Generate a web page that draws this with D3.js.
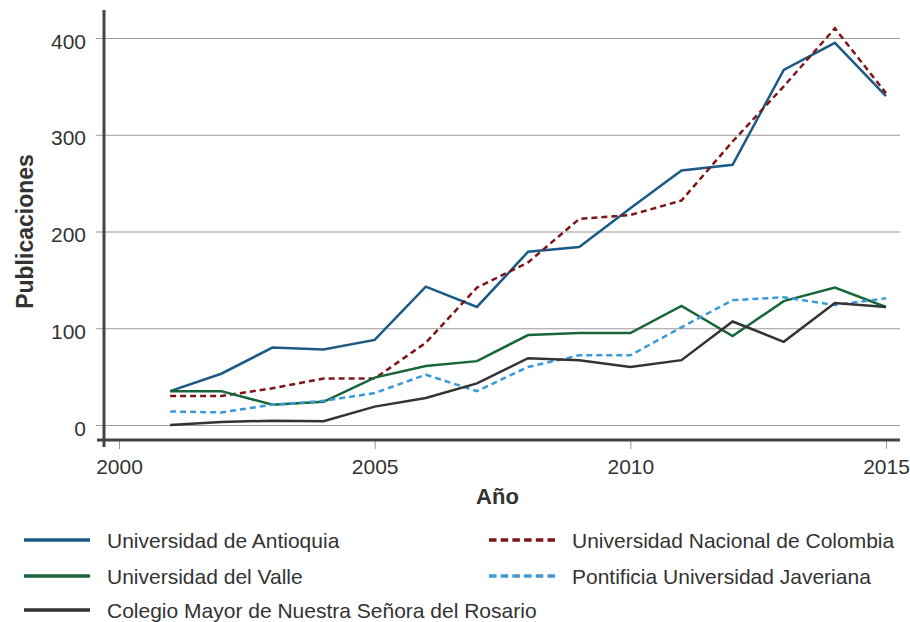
<!DOCTYPE html>
<html><head><meta charset="utf-8">
<script src="https://cdn.jsdelivr.net/npm/d3@7"></script>
<style>body{margin:0;background:#fff}svg{display:block}text{font-family:"Liberation Sans",Arial,Helvetica,sans-serif;fill:#333}</style>
</head><body>
<svg id="c" width="910" height="622"></svg>
<script>
const years = [2001,2002,2003,2004,2005,2006,2007,2008,2009,2010,2011,2012,2013,2014,2015];
const antioquia = [35,53,80,78,88,143,122,179,184,224,263,269,367,395,340];
const nacional  = [30,30,38,48,48,85,142,168,213,217,232,293,350,410,343];
const valle     = [35,35,21,24,49,61,66,93,95,95,123,92,128,142,122];
const javeriana = [14,13,21,25,33,52,35,60,72,72,101,129,132,124,131];
const rosario   = [0,3,4.5,4,19,28,43,69,67,60,67,107,86,126,122];
const seriesNames = ["Universidad de Antioquia","Universidad Nacional de Colombia","Universidad del Valle","Pontificia Universidad Javeriana","Colegio Mayor de Nuestra Señora del Rosario"];
const xTicks = [2000,2005,2010,2015];
const yTicks = [0,100,200,300,400];

const series = [
  {name:seriesNames[0], values:antioquia, color:"#1c5a86", dash:null},
  {name:seriesNames[1], values:nacional,  color:"#7e1518", dash:"6,4"},
  {name:seriesNames[2], values:valle,     color:"#17663a", dash:null},
  {name:seriesNames[3], values:javeriana, color:"#3a9ad8", dash:"6,4"},
  {name:seriesNames[4], values:rosario,   color:"#333333", dash:null}
];

const svg = d3.select("#c");
const x = d3.scaleLinear().domain([2000,2015]).range([119,886]);
const y = d3.scaleLinear().domain([0,400]).range([425,38]);

// gridlines + y axis
const yAxis = d3.axisLeft(y).tickValues(yTicks).tickSize(-804).tickPadding(10);
const gy = svg.append("g").attr("transform","translate(104,0)").call(yAxis);
gy.select(".domain").remove();
gy.selectAll(".tick line").attr("x1",-8).attr("x2",796).attr("stroke","#9a9a9a").attr("stroke-width",1);
gy.selectAll(".tick text").attr("font-size",21).attr("fill","#333").attr("x",-18).attr("dy","0.48em");

// x axis
const xAxis = d3.axisBottom(x).tickValues(xTicks).tickFormat(d3.format("d")).tickSize(9).tickPadding(10);
const gx = svg.append("g").attr("transform","translate(0,440)").call(xAxis);
gx.select(".domain").remove();
gx.selectAll(".tick line").attr("stroke","#999").attr("stroke-width",1);
gx.selectAll(".tick text").attr("font-size",21).attr("fill","#333");

// axis lines
svg.append("line").attr("x1",97).attr("x2",900).attr("y1",440).attr("y2",440).attr("stroke","#444").attr("stroke-width",3);
svg.append("line").attr("x1",104).attr("x2",104).attr("y1",10).attr("y2",447).attr("stroke","#444").attr("stroke-width",3);

// titles
svg.append("text").attr("x",497.5).attr("y",504).attr("text-anchor","middle").attr("font-size",22).attr("font-weight","bold").text("Año");
svg.append("text").attr("transform","translate(33,231.5) rotate(-90)").attr("text-anchor","middle").attr("font-size",23).attr("font-weight","bold").text("Publicaciones");

// lines
const line = d3.line().x((d,i)=>x(years[i])).y(d=>y(d));
series.forEach(s=>{
  svg.append("path").attr("d",line(s.values)).attr("fill","none").attr("stroke",s.color)
    .attr("stroke-width",2.5).attr("stroke-dasharray",s.dash).attr("stroke-linejoin","miter");
});

// legend
const legPos = [[24,540],[489,540],[24,576],[489,576],[24,610]];
series.forEach((s,i)=>{
  const [lx,ly] = legPos[i];
  svg.append("line").attr("x1",lx).attr("x2",lx+66).attr("y1",ly).attr("y2",ly)
    .attr("stroke",s.color).attr("stroke-width",3.5).attr("stroke-dasharray",s.dash?"7.5,4.2":null);
  svg.append("text").attr("x",i%2?572:107).attr("y",ly+8).attr("font-size",21).text(s.name);
});
</script>
</body></html>
